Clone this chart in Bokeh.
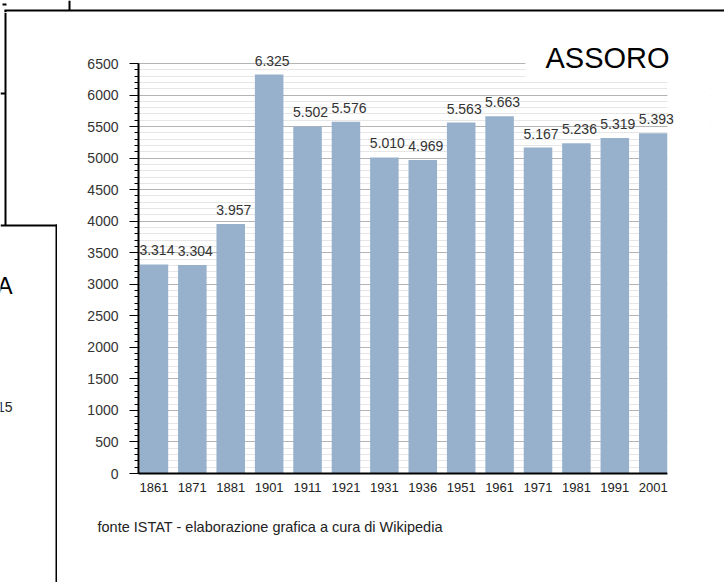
from bokeh.plotting import figure
from bokeh.layouts import row, column
from bokeh.models import (ColumnDataSource, FixedTicker, LabelSet, Label,
                          BoxAnnotation, Range1d, Title)
from bokeh.core.properties import value
from bokeh.embed import file_html
from bokeh.resources import INLINE

# ---- data ----
years = ["1861", "1871", "1881", "1901", "1911", "1921", "1931",
         "1936", "1951", "1961", "1971", "1981", "1991", "2001"]
population = [3314, 3304, 3957, 6325, 5502, 5576, 5010,
              4969, 5563, 5663, 5167, 5236, 5319, 5393]
y_major_ticks = list(range(0, 6501, 500))
y_minor_ticks = list(range(0, 6501, 100))
title_text = "ASSORO"
source_text = "fonte ISTAT - elaborazione grafica a cura di Wikipedia"

FONT = "Liberation Sans"
BAR_W = 0.743
BAR_COLOR = "#97B1CC"

TOP_H = 12          # height of the top strip
LEFT_W = 57         # width of the left strip
MAIN_H = 582 - TOP_H
MAIN_W = 724 - LEFT_W


def blank(w, h):
    f = figure(width=w, height=h, output_backend="svg", toolbar_location=None,
               x_axis_location=None, y_axis_location=None,
               x_range=Range1d(0, 1), y_range=Range1d(0, 1),
               min_border=0, frame_align=False)
    f.outline_line_color = None
    f.xgrid.visible = False
    f.ygrid.visible = False
    return f


def rule(f, l, r, t, b, color="black"):
    f.add_layout(BoxAnnotation(left=l, right=r, top=t, bottom=b,
                               left_units="canvas", right_units="canvas",
                               top_units="canvas", bottom_units="canvas",
                               fill_color=color, fill_alpha=1, line_color=None))


# ---- top strip (page frame lines) ----
top = blank(724, TOP_H)
rule(top, 4, 724, 9, 11)
rule(top, 68, 70, 0, 10)
rule(top, 2, 6, 3, 5)
rule(top, 4, 6, 10, TOP_H)

# ---- left strip (neighbouring box) ----
left = blank(LEFT_W, MAIN_H)
rule(left, 4, 6, 0, 225 - TOP_H)
rule(left, 0, 5, 92 - TOP_H, 94 - TOP_H)
rule(left, 0, LEFT_W, 224 - TOP_H, 226 - TOP_H)
rule(left, LEFT_W - 2, LEFT_W, 224 - TOP_H, MAIN_H)
left.add_layout(Label(x=12, y=285 - TOP_H, x_units="canvas", y_units="canvas",
                      text="A", text_font=FONT, text_font_size="23px",
                      text_color="black", text_align="right",
                      text_baseline="middle"))
left.add_layout(Label(x=12, y=406 - TOP_H, x_units="canvas", y_units="canvas",
                      text="15", text_font=FONT, text_font_size="14px",
                      text_color="#222222", text_align="right",
                      text_baseline="middle"))

# ---- main chart ----
FRAME_L, FRAME_R_BARS, FRAME_R = 138, 667, 710      # global x
FRAME_T, FRAME_B = TOP_H, 473                       # global y
x_start = -BAR_W / 2 - 0.03
px_per_unit = (FRAME_R_BARS - FRAME_L) / (len(years) - 1 + BAR_W / 2 - x_start)
x_end = x_start + (FRAME_R - FRAME_L) / px_per_unit
y_top = 6500 * (FRAME_B - FRAME_T) / (FRAME_B - 63)

xs = list(range(len(years)))
labels = [f"{v:,}".replace(",", ".") for v in population]
src = ColumnDataSource(dict(x=xs, pop=population, lab=labels))

p = figure(width=MAIN_W, height=MAIN_H, output_backend="svg", toolbar_location=None,
           x_range=Range1d(x_start, x_end), y_range=Range1d(0, y_top),
           min_border_left=FRAME_L - LEFT_W, min_border_right=724 - FRAME_R,
           min_border_top=FRAME_T - TOP_H,
           min_border_bottom=582 - FRAME_B, frame_align=False)
p.outline_line_color = None

ticker_y = FixedTicker(ticks=y_major_ticks, minor_ticks=y_minor_ticks)
p.xgrid.visible = False
p.ygrid.ticker = ticker_y
p.ygrid.bounds = (0, 6500)
p.ygrid.grid_line_color = "#b4b4b4"
p.ygrid.minor_grid_line_color = "#e6e6e6"

p.vbar(x="x", top="pop", width=BAR_W, source=src,
       fill_color=BAR_COLOR, line_color=None)

# white masks: right of the last bar, and behind the title
rule(p, FRAME_R_BARS - LEFT_W, MAIN_W, 0, MAIN_H, color="white")
rule(p, 525 - LEFT_W, MAIN_W, 0, 79 - TOP_H, color="white")

p.add_layout(LabelSet(x="x", y="pop", text="lab", source=src,
                      text_align="center", text_baseline="bottom",
                      x_offset=3, y_offset=9,
                      text_font=value(FONT), text_font_size=value("14px"),
                      text_color="#333333"))

ya = p.yaxis[0]
ya.ticker = ticker_y
ya.bounds = (0, 6500)
ya.axis_line_color = "black"
ya.axis_line_width = 2
ya.major_tick_line_color = "black"
ya.major_tick_out = 9
ya.major_tick_in = 0
ya.minor_tick_line_color = "black"
ya.minor_tick_out = 4
ya.minor_tick_in = 0
ya.major_label_text_font = FONT
ya.major_label_text_font_size = "14px"
ya.major_label_text_color = "#333333"
ya.major_label_standoff = 11

xa = p.xaxis[0]
xa.ticker = FixedTicker(ticks=xs)
xa.bounds = (x_start, len(years) - 1 + BAR_W / 2)
xa.major_label_overrides = {i: y for i, y in zip(xs, years)}
xa.axis_line_color = "black"
xa.axis_line_width = 2
xa.major_tick_line_color = None
xa.minor_tick_line_color = None
xa.major_label_text_font = FONT
xa.major_label_text_font_size = "13px"
xa.major_label_text_color = "#222222"
xa.major_label_standoff = 3

p.add_layout(Label(x=545 - LEFT_W, y=57 - TOP_H, x_units="canvas", y_units="canvas",
                   text=title_text, text_font=FONT, text_font_size="29px",
                   text_color="black", text_baseline="middle"))

# source note under the axis
p.add_layout(Title(text=source_text, align="left", offset=97 - FRAME_L,
                   standoff=45, text_font=FONT, text_font_size="14.5px",
                   text_font_style="normal", text_color="#222222"), "below")

layout = column(top, row(left, p, spacing=0), spacing=0)
open("out.html", "w").write(file_html(layout, INLINE))
